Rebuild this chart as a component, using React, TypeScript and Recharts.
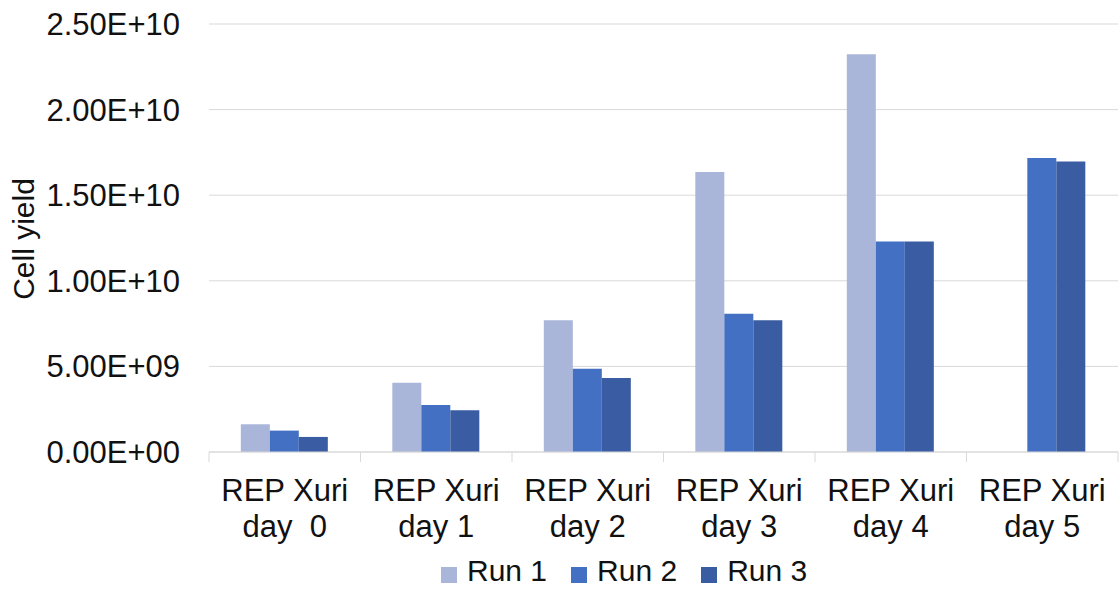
import React from 'react';
import { BarChart, Bar, XAxis, YAxis, CartesianGrid, Legend } from 'recharts';

const categoryTop = 'REP Xuri';
const categoryDays = ['day  0', 'day 1', 'day 2', 'day 3', 'day 4', 'day 5'];

const run1 = [1.62e9, 4.04e9, 7.7e9, 1.635e10, 2.324e10, null];
const run2 = [1.25e9, 2.75e9, 4.86e9, 8.07e9, 1.23e10, 1.717e10];
const run3 = [0.88e9, 2.44e9, 4.32e9, 7.7e9, 1.23e10, 1.697e10];

const yTicks = [0, 5e9, 1e10, 1.5e10, 2e10, 2.5e10];

const series = [
  { key: 'run1', name: 'Run 1', color: '#a9b6d9' },
  { key: 'run2', name: 'Run 2', color: '#4370c3' },
  { key: 'run3', name: 'Run 3', color: '#3a5ca2' },
];

const data = categoryDays.map((day, i) => ({
  name: `${categoryTop}\n${day}`,
  run1: run1[i],
  run2: run2[i],
  run3: run3[i],
}));

const FONT = '"Liberation Sans", Arial, Helvetica, sans-serif';
const TEXT = '#111';
const GRID = '#d9d9d9';

const W = 1120;
const H = 589;
const M = { top: 24, right: 2, left: 0, bottom: 0 };
const Y_AXIS_W = 209;

// Excel-style label: 2.50E+10, 0.00E+00
const sci = (v: number) => {
  const [m, e] = v.toExponential(2).split('e');
  const exp = Number(e);
  const sign = exp < 0 ? '-' : '+';
  return `${m}E${sign}${String(Math.abs(exp)).padStart(2, '0')}`;
};

const CategoryTick = (props: any) => {
  const { x, y, payload, index } = props;
  const half = payload?.offset ?? (W - Y_AXIS_W - M.right) / categoryDays.length / 2;
  const [top, bottom] = String(payload.value).split('\n');
  return (
    <g>
      <line x1={x - half} x2={x - half} y1={y} y2={y + 10} stroke={GRID} />
      {index === categoryDays.length - 1 && (
        <line x1={x + half} x2={x + half} y1={y} y2={y + 10} stroke={GRID} />
      )}
      <text
        x={x}
        y={y + 49}
        textAnchor="middle"
        fill={TEXT}
        fontSize={31}
        fontFamily={FONT}
        style={{ whiteSpace: 'pre' }}
      >
        {top}
      </text>
      <text
        x={x}
        y={y + 85}
        textAnchor="middle"
        fill={TEXT}
        fontSize={31}
        fontFamily={FONT}
        style={{ whiteSpace: 'pre' }}
      >
        {bottom}
      </text>
    </g>
  );
};

const YTitle = (props: any) => {
  const vb = props.viewBox || {};
  const cy = (vb.y ?? 0) + (vb.height ?? 0) / 2 + 1;
  return (
    <text
      transform={`translate(34, ${cy}) rotate(-90)`}
      textAnchor="middle"
      fill={TEXT}
      fontSize={30}
      fontFamily={FONT}
    >
      Cell yield
    </text>
  );
};

const LegendContent = () => (
  <div style={{ display: 'flex', fontFamily: FONT, fontSize: 30, color: TEXT, height: 28, lineHeight: '28px' }}>
    {series.map((s) => (
      <div key={s.key} style={{ display: 'flex', alignItems: 'flex-start', marginRight: 24 }}>
        <span style={{ width: 16, height: 16, marginTop: 10, background: s.color, marginRight: 10 }} />
        <span>{s.name}</span>
      </div>
    ))}
  </div>
);

export default function App() {
  return (
    <div style={{ position: 'absolute', left: 0, top: 0, width: W, height: H, overflow: 'hidden', background: '#fff' }}>
      <BarChart width={W} height={H} data={data} margin={M} barCategoryGap="21%" barGap={0}>
        <CartesianGrid vertical={false} stroke={GRID} />
        <XAxis
          dataKey="name"
          height={137}
          interval={0}
          axisLine={{ stroke: GRID }}
          tickLine={false}
          tickSize={0}
          tickMargin={0}
          tick={<CategoryTick />}
        />
        <YAxis
          width={Y_AXIS_W}
          domain={[0, 2.5e10]}
          ticks={yTicks}
          interval={0}
          axisLine={false}
          tickLine={false}
          tickSize={0}
          tickMargin={29}
          tickFormatter={sci}
          tick={{ fill: TEXT, fontSize: 31, fontFamily: FONT }}
          label={{ position: 'insideLeft', content: <YTitle /> }}
        />
        <Legend
          layout="horizontal"
          verticalAlign="middle"
          align="center"
          content={<LegendContent />}
          wrapperStyle={{ left: 441, top: 557, width: 'auto', height: 28 }}
        />
        {series.map((s) => (
          <Bar key={s.key} dataKey={s.key} name={s.name} fill={s.color} isAnimationActive={false} />
        ))}
      </BarChart>
    </div>
  );
}
